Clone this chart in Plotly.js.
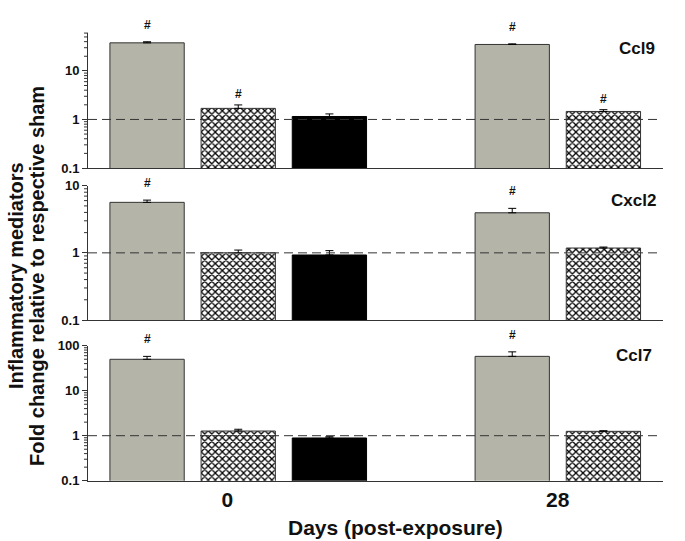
<!DOCTYPE html>
<html>
<head>
<meta charset="utf-8">
<script src="https://cdn.plot.ly/plotly-3.0.1.min.js"></script>
<style>html,body{margin:0;padding:0;background:#fff;}#chart{width:685px;height:541px;}</style>
</head>
<body>
<div id="chart"></div>
<script>
// ---- data ----
const days = [0, 28];
const dayLabels = ['0', '28'];
const genes = ['Ccl9', 'Cxcl2', 'Ccl7'];

// series A (gray), B (crosshatch), C (black); null = not measured
const ccl9A = [37.8, 35.0];
const ccl9Aerr = [2.0, 1.0];
const ccl9B = [1.69, 1.46];
const ccl9Berr = [0.30, 0.13];
const ccl9C = [1.15, null];
const ccl9Cerr = [0.15, 0];

const cxcl2A = [5.65, 3.95];
const cxcl2Aerr = [0.45, 0.65];
const cxcl2B = [1.00, 1.18];
const cxcl2Berr = [0.10, 0.04];
const cxcl2C = [0.93, null];
const cxcl2Cerr = [0.15, 0];

const ccl7A = [49.9, 58.0];
const ccl7Aerr = [8.0, 15.0];
const ccl7B = [1.27, 1.25];
const ccl7Berr = [0.12, 0.04];
const ccl7C = [0.89, null];
const ccl7Cerr = [0.06, 0];

// significance marks (#)
const ccl9Sig = {A: [true, true], B: [true, true], C: [false, false]};
const cxcl2Sig = {A: [true, true], B: [false, false], C: [false, false]};
const ccl7Sig = {A: [true, true], B: [false, false], C: [false, false]};

const yRanges = [[-1, 1.78], [-1, 1], [-1, 2]];
const yTickVals = [[0.1, 1, 10], [0.1, 1, 10], [0.1, 1, 10, 100]];
const yTickText = [['0.1', '1', '10'], ['0.1', '1', '10'], ['0.1', '1', '10', '100']];
const yTitleLines = ['Inflammatory mediators', 'Fold change relative to respective sham'];
const xTitle = 'Days (post-exposure)';

// ---- build ----
const panels = [
  {A: ccl9A, Ae: ccl9Aerr, B: ccl9B, Be: ccl9Berr, C: ccl9C, Ce: ccl9Cerr, sig: ccl9Sig},
  {A: cxcl2A, Ae: cxcl2Aerr, B: cxcl2B, Be: cxcl2Berr, C: cxcl2C, Ce: cxcl2Cerr, sig: cxcl2Sig},
  {A: ccl7A, Ae: ccl7Aerr, B: ccl7B, Be: ccl7Berr, C: ccl7C, Ce: ccl7Cerr, sig: ccl7Sig}
];
const H = 541, W = 685;
const domains = [[33, 168], [185.7, 320], [345.7, 480.7]].map(d => [1 - d[1] / H, 1 - d[0] / H]);
const xDom = [88 / W, 663 / W];
const gray = '#b4b4a8';
const BARGAP = 0.251, GROUPGAP = 0.185;
const styles = {
  A: {color: gray, line: {color: '#333', width: 1}},
  B: {color: 'white', line: {color: '#333', width: 1},
      pattern: {shape: 'x', fgcolor: '#000', bgcolor: '#fff', size: 5, solidity: 0.45}},
  C: {color: '#000', line: {color: '#000', width: 1}}
};
const slotIndex = {A: -1, B: 0, C: 1};
const sigShift = {A: 8, B: 2, C: 2};
const traces = [];
const annotations = [];
const shapes = [];
const bold = {family: 'Liberation Sans, Arial, sans-serif', weight: 'bold', color: '#111'};
const layout = {
  width: W, height: H, margin: {l: 0, r: 0, t: 0, b: 0},
  paper_bgcolor: '#fff', plot_bgcolor: '#fff',
  showlegend: false, barmode: 'group', bargap: BARGAP, bargroupgap: GROUPGAP,
  annotations: annotations, shapes: shapes
};

function minorTicks(r) {
  const out = [];
  for (let k = Math.floor(r[0]); k <= Math.ceil(r[1]); k++) {
    for (let m = 2; m <= 9; m++) {
      const v = m * Math.pow(10, k);
      const lv = Math.log10(v);
      if (lv > r[0] && lv < r[1]) out.push(v);
    }
  }
  return out;
}

panels.forEach((p, i) => {
  const n = i + 1;
  const sfx = n === 1 ? '' : String(n);
  const xa = 'x' + sfx;
  const ya = 'y' + sfx;
  const slot = (days[1] - days[0]) * (1 - BARGAP) / 3;
  ['A', 'B', 'C'].forEach(k => {
    const vals = p[k];
    const errs = p[k + 'e'];
    traces.push({
      type: 'bar', x: days, y: vals, xaxis: xa, yaxis: ya,
      marker: styles[k], offsetgroup: k,
      error_y: {type: 'data', symmetric: false, array: errs, arrayminus: errs.map(() => 0),
                color: '#000', thickness: 1, width: 4},
      hoverinfo: 'skip'
    });
    p.sig[k].forEach((s, j) => {
      if (s && vals[j] != null) {
        annotations.push({
          xref: xa, yref: ya, x: days[j] + slotIndex[k] * slot, y: Math.log10(vals[j] + errs[j]),
          text: '#', showarrow: false, yanchor: 'bottom', yshift: sigShift[k],
          font: Object.assign({}, bold, {size: 12})
        });
      }
    });
  });
  layout['xaxis' + sfx] = {
    domain: xDom, anchor: ya, range: [-11.52, 32.57],
    showline: true, linecolor: '#333', linewidth: 1, showgrid: false, zeroline: false,
    ticks: '', showticklabels: n === 3,
    tickvals: [-0.83, 24.5], ticktext: dayLabels,
    tickfont: Object.assign({}, bold, {size: 21}),
    fixedrange: true
  };
  layout['yaxis' + sfx] = {
    domain: domains[i], anchor: xa, type: 'log', range: yRanges[i],
    showline: true, linecolor: '#333', linewidth: 1, showgrid: false, zeroline: false,
    tickmode: 'array', tickvals: yTickVals[i], ticktext: yTickText[i],
    ticks: 'outside', ticklen: 5, tickcolor: '#333',
    tickfont: Object.assign({}, bold, {size: 13}),
    fixedrange: true
  };
  // minor ticks (axis decoration) placed along the log axis in paper space
  const r = yRanges[i], dm = domains[i];
  minorTicks(r).forEach(v => {
    const yp = dm[0] + (Math.log10(v) - r[0]) / (r[1] - r[0]) * (dm[1] - dm[0]);
    shapes.push({
      type: 'line', xref: 'paper', yref: 'paper', layer: 'above',
      x0: xDom[0] - 4 / W, x1: xDom[0], y0: yp, y1: yp, line: {color: '#333', width: 1}
    });
  });
  shapes.push({
    type: 'line', xref: xa + ' domain', yref: ya, x0: 0, x1: 0.995, y0: 1, y1: 1,
    line: {color: '#333', width: 1, dash: '9px,5px'}
  });
  annotations.push({
    xref: 'paper', yref: 'paper', x: [656.7, 658, 654][i] / W, y: 1 - [48, 200.7, 355.7][i] / H,
    xanchor: 'right', yanchor: 'middle', text: genes[i], showarrow: false,
    font: Object.assign({}, bold, {size: 17})
  });
});

[16, 37].forEach((xp, li) => {
  annotations.push({
    xref: 'paper', yref: 'paper', x: xp / W, y: 1 - 276 / H, textangle: -90,
    text: yTitleLines[li], showarrow: false, xanchor: 'center', yanchor: 'middle',
    font: Object.assign({}, bold, {size: 20})
  });
});
annotations.push({
  xref: 'paper', yref: 'paper', x: 395 / W, y: 1 - 527 / H,
  text: xTitle, showarrow: false, xanchor: 'center', yanchor: 'middle',
  font: Object.assign({}, bold, {size: 21})
});

Plotly.newPlot('chart', traces, layout, {staticPlot: true});
</script>
</body>
</html>
